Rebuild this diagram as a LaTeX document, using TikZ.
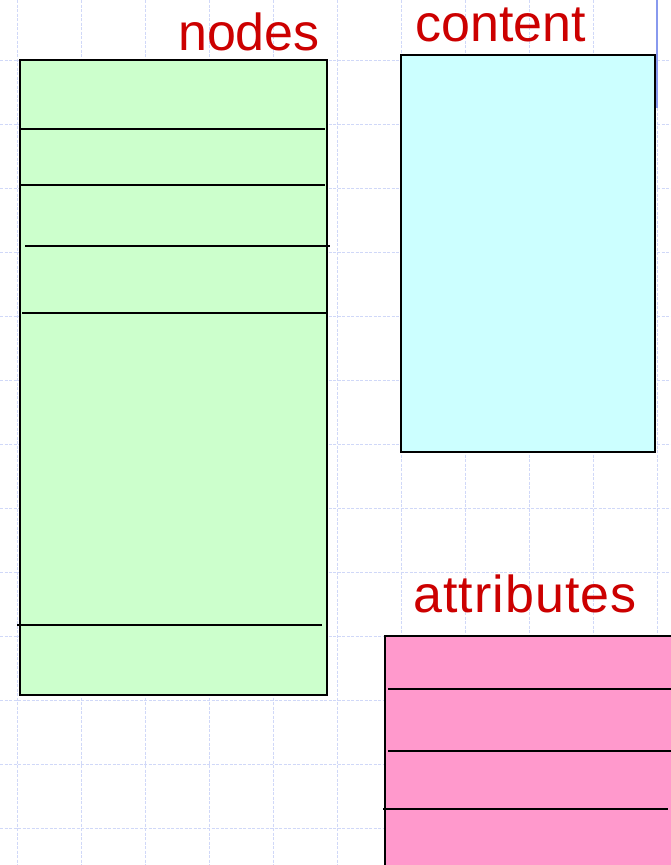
\documentclass[tikz,border=0pt]{standalone}
\usepackage{fontspec}
\setmainfont{Liberation Sans}
\usepackage{tikz}
\usetikzlibrary{positioning}
\definecolor{gridblue}{RGB}{208,216,248}
\definecolor{nodegreen}{RGB}{204,255,204}
\definecolor{contcyan}{RGB}{204,255,255}
\definecolor{attrpink}{RGB}{255,153,204}
\definecolor{titlered}{RGB}{204,0,0}
\definecolor{markblue}{RGB}{136,153,238}

\begin{document}
\begin{tikzpicture}[x=1pt,y=-1pt,
  box/.style={draw=black,line width=1.3pt,inner sep=0pt,outer sep=0pt},
  sep/.style={draw=black,line width=1.3pt},
  ttl/.style={text=titlered,font=\fontsize{52}{52}\selectfont,anchor=base,inner sep=0pt},
  gridline/.style={draw=gridblue,line width=0.8pt,dash pattern=on 3pt off 1.5pt}
]
\useasboundingbox (0,0) rectangle (671,865);
\clip (0,0) rectangle (671,865);
\fill[white] (0,0) rectangle (671,865);
% background grid
\foreach \gx in {17,81,...,657}
  \draw[gridline] (\gx,0) -- (\gx,865);
\foreach \gy in {60,124,...,828}
  \draw[gridline] (0,\gy) -- (671,\gy);

% the three tables
\node[box,fill=nodegreen,minimum width=307pt,minimum height=635pt] (nodes)   at (173.5,377.5) {};
\node[box,fill=contcyan, minimum width=254pt,minimum height=397pt] (content) at (528,253.5)   {};
\node[box,fill=attrpink, minimum width=300pt,minimum height=260pt] (attrs)   at (535,766)     {};

% titles
\node[ttl] (nodesttl) at (249,50)  {nodes};
\node[ttl] (contttl)  at (501,41)  {content};
\node[ttl] (attrttl)  at (525,612) {\addfontfeature{LetterSpace=2}attributes};

% rows in nodes
\draw[sep] (20,129) -- (325,129);
\draw[sep] (20,185) -- (325,185);
\draw[sep] (25,246) -- (330,246);
\draw[sep] (22,313) -- (327,313);
\draw[sep] (17,625) -- (322,625);
% rows in attributes
\draw[sep] (388,689) -- (671,689);
\draw[sep] (388,751) -- (671,751);
\draw[sep] (383,809) -- (668,809);

% mark at top right
\draw[markblue,line width=1.5pt] (657,0) -- (657,108);
\end{tikzpicture}
\end{document}
